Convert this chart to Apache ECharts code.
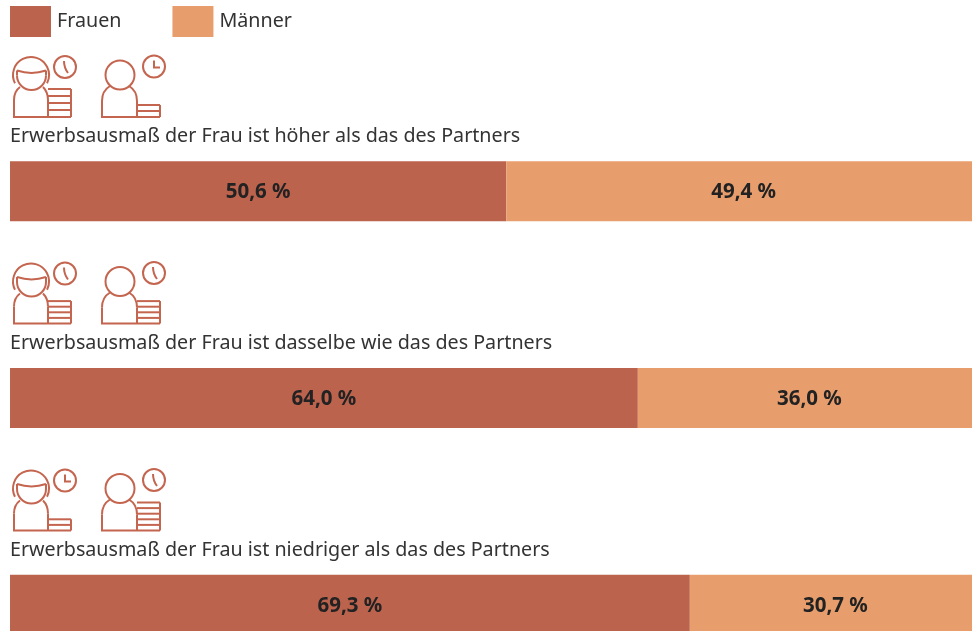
<!DOCTYPE html>
<html lang="de">
<head>
<meta charset="utf-8">
<title>Erwerbsausmaß</title>
<style>
  html, body { margin: 0; padding: 0; background: #fff; overflow: hidden; width: 972px; height: 631px; }
  /* the chart is larger than the window: last bar and right end run off the page */
  #chart { width: 992px; height: 708px; }
</style>
<script src="https://cdn.jsdelivr.net/npm/echarts@6/dist/echarts.min.js"></script>
</head>
<body>
<div id="chart"></div>
<script>
const categories = [
  'Erwerbsausmaß der Frau ist höher als das des Partners',
  'Erwerbsausmaß der Frau ist dasselbe wie das des Partners',
  'Erwerbsausmaß der Frau ist niedriger als das des Partners'
]
const frauen = [50.6, 64.0, 69.3]
const maenner = [49.4, 36.0, 30.7]

// small work-hours pictograms above each bar
const womanSlats = [4, 4, 2]
const manSlats = [2, 4, 5]
const womanClock = ['long', 'long', 'short']
const manClock = ['short', 'long', 'long']

const FONT = '"Noto Sans", sans-serif'
const TEXT_COLOR = '#333333'
const ICON_COLOR = '#C4654F'
const COLOR_F = '#BC634E'
const COLOR_M = '#E89E6C'

const rowOffsets = [0, 206.5, 413.5]

const fmt = v => v.toFixed(1).replace('.', ',') + ' %'
const iconStyle = { stroke: ICON_COLOR, fill: 'none', lineWidth: 2 }

const line = (x1, y1, x2, y2) => ({ type: 'line', shape: { x1, y1, x2, y2 }, style: iconStyle })
const curve = (x1, y1, cpx1, cpy1, cpx2, cpy2, x2, y2) => ({
  type: 'bezierCurve', shape: { x1, y1, cpx1, cpy1, cpx2, cpy2, x2, y2 }, style: iconStyle
})
const arc = (cx, cy, r, startAngle, endAngle) => ({
  type: 'arc', shape: { cx, cy, r, startAngle, endAngle, clockwise: true }, style: iconStyle
})
const circle = (cx, cy, r) => ({ type: 'circle', shape: { cx, cy, r }, style: iconStyle })

const clock = (cx, cy, kind) => {
  const parts = [circle(cx, cy, 11)]
  if (kind === 'short') {
    parts.push({ type: 'polyline', shape: { points: [[cx, cy - 6], [cx, cy + 1], [cx + 6, cy + 1]] }, style: iconStyle })
  } else {
    parts.push(curve(cx - 1, cy - 6, cx - 1, cy - 1, cx, cy + 2, cx + 3, cy + 6))
  }
  return parts
}

const stack = (x1, x2, n, pitch) => {
  const parts = [line(x2, 117, x2, 117 - n * pitch)]
  for (let i = 1; i <= n; i++) parts.push(line(x1, 117 - i * pitch, x2, 117 - i * pitch))
  return parts
}

const iconRow = (i, offset) => ({
  type: 'group',
  x: 0,
  y: offset,
  silent: true,
  children: [
    // woman
    arc(31, 75, 18, Math.PI * 0.85, Math.PI * 2.15),
    arc(31.5, 75.5, 14.5, 0, Math.PI),
    line(17, 75.5, 17, 70.5),
    line(46, 75.5, 46, 70.5),
    curve(17, 70.5, 26, 73.5, 37, 73.5, 46, 70.5),
    line(14, 117, 14, 100),
    curve(14, 100, 14, 94, 16, 90, 20, 87),
    line(48, 117, 48, 100),
    curve(48, 100, 48, 94, 46, 90, 43, 87),
    line(13, 117, 71, 117),
    ...stack(48, 71, womanSlats[i], [7, 5.6, 5.6][i]),
    ...clock(65, 67, womanClock[i]),
    // man
    circle(120, 75, 14.5),
    line(102, 117, 102, 101),
    curve(102, 101, 102, 94, 105, 89, 110, 86),
    line(137, 117, 137, 101),
    curve(137, 101, 137, 94, 134, 89, 129, 86),
    line(101, 117, 160, 117),
    ...stack(137, 160, manSlats[i], [6, 5.6, 5.6][i]),
    ...clock(154, 66.5, manClock[i]),
    // row heading
    {
      type: 'text',
      x: 10,
      y: 136.5,
      style: {
        text: categories[i],
        fontFamily: FONT,
        fontSize: 19.7,
        fill: TEXT_COLOR,
        textAlign: 'left',
        textVerticalAlign: 'middle'
      }
    }
  ]
})

const chart = echarts.init(document.getElementById('chart'))

chart.setOption({
  animation: false,
  textStyle: { fontFamily: FONT },
  legend: {
    left: 5,
    top: 1,
    itemWidth: 41,
    itemHeight: 31,
    itemGap: 51,
    icon: 'rect',
    selectedMode: false,
    data: ['Frauen', 'Männer'],
    textStyle: { fontFamily: FONT, fontSize: 19.7, color: TEXT_COLOR, padding: [2, 0, 0, 1] }
  },
  grid: { left: 10, right: 1, top: 88, bottom: 0 },
  xAxis: { type: 'value', min: 0, max: 100, show: false },
  yAxis: {
    type: 'category',
    inverse: true,
    data: categories,
    axisLine: { show: false },
    axisTick: { show: false },
    splitLine: { show: false },
    axisLabel: { show: false }
  },
  graphic: { elements: rowOffsets.map((o, i) => iconRow(i, o)) },
  series: [
    {
      name: 'Frauen',
      type: 'bar',
      stack: 'total',
      barWidth: 60,
      data: frauen,
      itemStyle: { color: COLOR_F },
      label: {
        show: true,
        position: 'inside',
        offset: [0, 1],
        formatter: p => fmt(p.value),
        fontFamily: FONT,
        fontSize: 20.5,
        fontWeight: 'bold',
        color: '#222222'
      }
    },
    {
      name: 'Männer',
      type: 'bar',
      stack: 'total',
      barWidth: 60,
      data: maenner,
      itemStyle: { color: COLOR_M },
      label: {
        show: true,
        position: 'inside',
        offset: [-5, 1],
        formatter: p => fmt(p.value),
        fontFamily: FONT,
        fontSize: 20.5,
        fontWeight: 'bold',
        color: '#222222'
      }
    }
  ]
})
</script>
</body>
</html>
